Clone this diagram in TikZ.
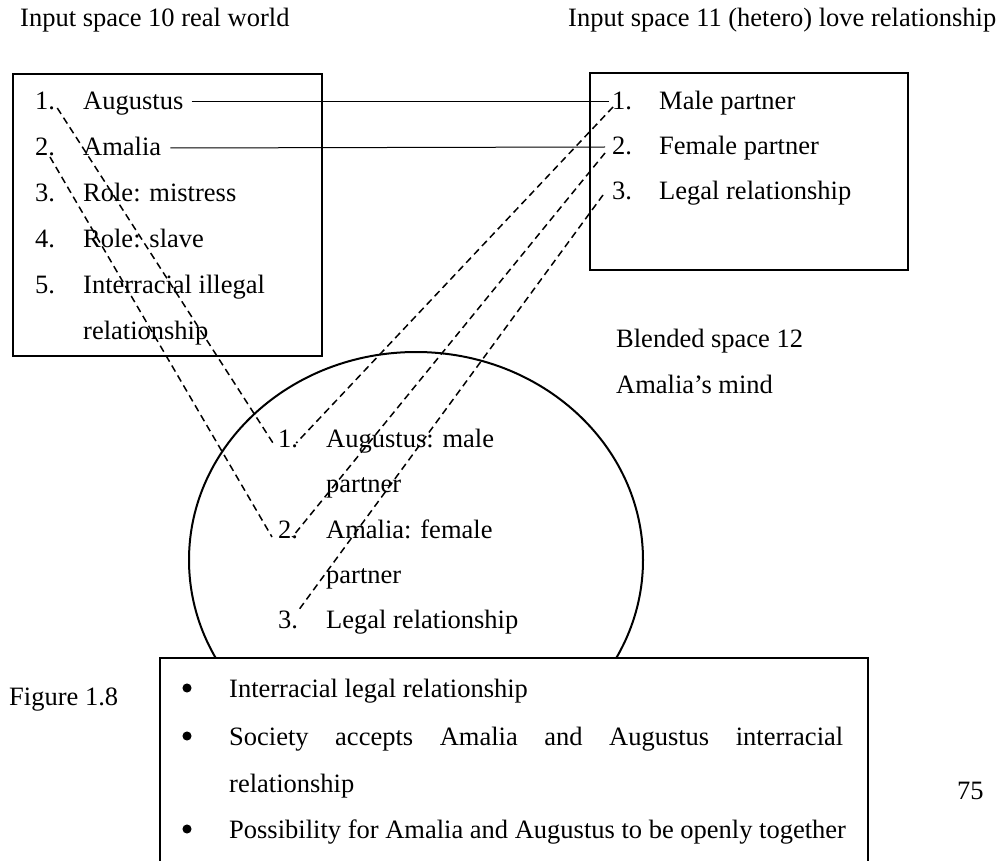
\documentclass[tikz,border=0pt]{standalone}
\usepackage{fontspec}
\setmainfont{Liberation Serif}
\usetikzlibrary{calc}
\begin{document}
\begin{tikzpicture}[x=1pt,y=-1pt,
  txt/.style={anchor=base west,inner sep=0pt,font=\fontsize{26.5}{32}\selectfont},
  dot/.style={circle,fill=black,draw=black,line width=1pt,inner sep=0pt,minimum size=8pt},
  boxline/.style={line width=2.6pt},
  solidcon/.style={line width=1pt},
  dashcon/.style={line width=1.5pt,dash pattern=on 7pt off 4.5pt}]
\useasboundingbox (0,0) rectangle (1007,861);
% blended space ellipse
\draw[line width=2pt] (416,560) ellipse [x radius=227, y radius=208];
% input boxes
\draw[boxline] (13,74) rectangle (322,356);
\draw[boxline] (590,73) rectangle (908,270);
% bottom box
\draw[boxline,fill=white] (160,658) rectangle (868,880);
% titles
\node[txt] (t10) at (20,27) {Input space 10 real world};
\node[txt] (t11) at (568,27) {Input space 11 (hetero) love relationship};
% left items
\node[txt] (l1) at (35,110) {1.};
\node[txt] (lt1) at (83,110) {Augustus};
\node[txt] (l2) at (35,156) {2.};
\node[txt] (lt2) at (83,156) {Amalia};
\node[txt] (l3) at (35,202) {3.};
\node[txt] (lt3) at (83,202) {Role: mistress};
\node[txt] (l4) at (35,248) {4.};
\node[txt] (lt4) at (83,248) {Role: slave};
\node[txt] (l5) at (35,293) {5.};
\node[txt] (lt5) at (83,293) {Interracial illegal};
\node[txt] (lt5b) at (83,339) {relationship};
% right items
\node[txt] (r1) at (612,110) {1.};
\node[txt] (rt1) at (659,110) {Male partner};
\node[txt] (r2) at (612,155) {2.};
\node[txt] (rt2) at (659,155) {Female partner};
\node[txt] (r3) at (612,200) {3.};
\node[txt] (rt3) at (659,200) {Legal relationship};
% blended labels
\node[txt] (bl1) at (616,347) {Blended space 12};
\node[txt] (bl2) at (616,393) {Amalia’s mind};
% blended items
\node[txt] (b1) at (278,447) {1.};
\node[txt] (bt1) at (326,447) {Augustus: male};
\node[txt] (bt1b) at (326,492) {partner};
\node[txt] (b2) at (278,538) {2.};
\node[txt] (bt2) at (326,538) {Amalia: female};
\node[txt] (bt2b) at (326,583) {partner};
\node[txt] (b3) at (278,628) {3.};
\node[txt] (bt3) at (326,628) {Legal relationship};
% bottom box contents
\node[dot] (d1) at (187,688) {};
\node[txt] (e1) at (229,697) {Interracial legal relationship};
\node[dot] (d2) at (187,736) {};
\node[txt] (e2) at (229,745) {\hbox to 614pt{Society\hfill accepts\hfill Amalia\hfill and\hfill Augustus\hfill interracial}};
\node[txt] (e2b) at (229,792) {relationship};
\node[dot] (d3) at (187,829) {};
\node[txt] (e3) at (229,838) {Possibility for Amalia and Augustus to be openly together};
% caption and page number
\node[txt] (fig) at (9,705) {Figure 1.8};
\node[txt] (pg) at (957,799) {75};
% solid connectors
\draw[solidcon] ($(lt1.base east)+(8,-8)$) -- ($(r1.base west)+(-3,-8)$);
\draw[solidcon] ($(lt2.base east)+(9,-8)$) -- ($(r2.base west)+(-7,-8)$);
% dashed connectors
\draw[dashcon] ($(l1.base east)+(2,-2)$) -- ($(b1.base west)+(-5,-4)$);
\draw[dashcon] ($(l2.base west)+(15,1)$) -- ($(b2.base west)+(-6,-1)$);
\draw[dashcon] ($(r1.base west)+(1,-3)$) -- ($(b1.base east)+(-2,-4)$);
\draw[dashcon] ($(r2.base west)+(-7,-2)$) -- ($(b2.base east)+(-6,-1)$);
\draw[dashcon] ($(r3.base west)+(-9,-5)$) -- ($(b3.base east)+(-1,-16)$);
\end{tikzpicture}
\end{document}
